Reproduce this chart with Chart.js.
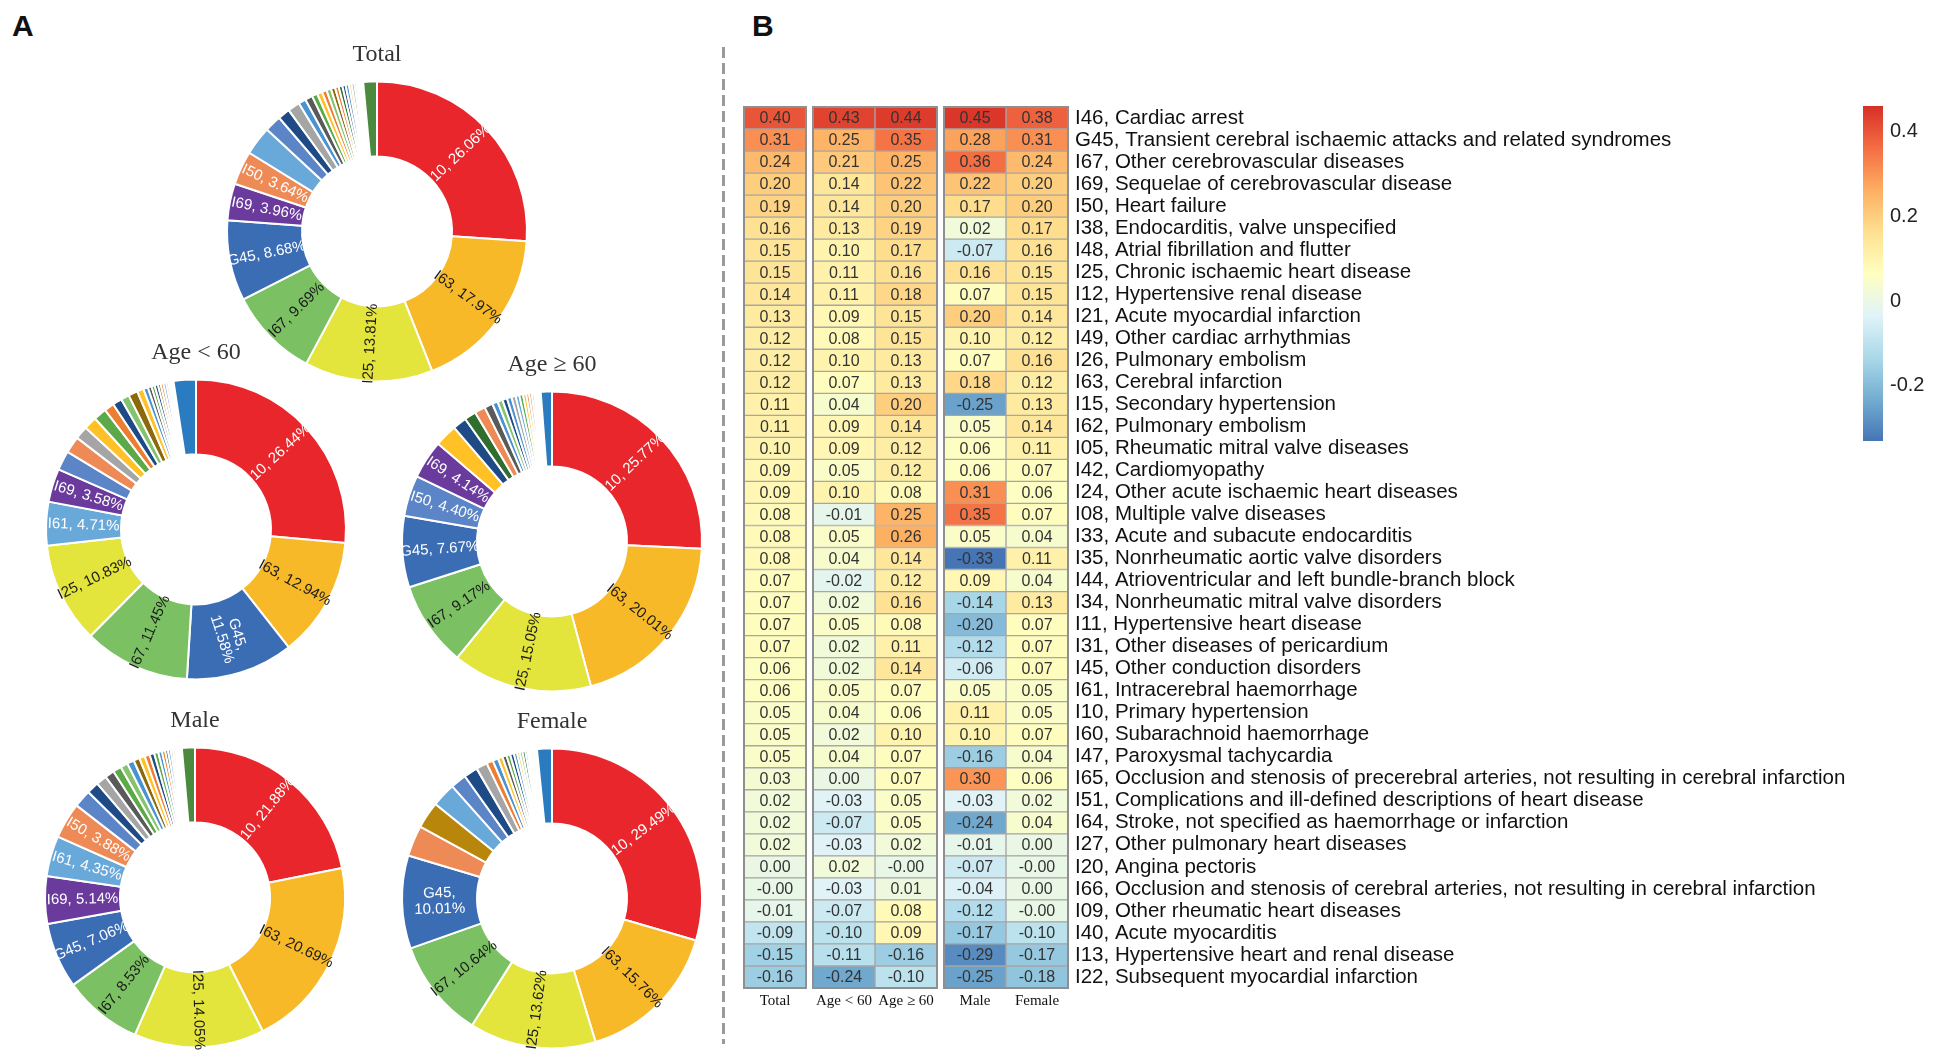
<!DOCTYPE html>
<html><head><meta charset="utf-8">
<script src="https://cdn.jsdelivr.net/npm/chart.js@4.4.1/dist/chart.umd.min.js"></script>
<style>
html,body{margin:0;padding:0;background:#fff;width:1937px;height:1058px;overflow:hidden;position:relative;font-family:"Liberation Sans",Arial,sans-serif}
canvas{position:absolute}
.panel{position:absolute;font:bold 30px/30px "Liberation Sans",Arial,sans-serif;color:#111}
#divider{position:absolute;left:722px;top:47px;width:3px;height:997px;background:repeating-linear-gradient(to bottom,#9a9a9a 0 11px,transparent 11px 16px)}
</style></head><body>
<div class="panel" style="left:12px;top:11px">A</div>
<div class="panel" style="left:752px;top:11px">B</div>
<div id="divider"></div>
<script>
// ---------------- DATA ----------------
const donutTitles = ['Total', 'Age < 60', 'Age \u2265 60', 'Male', 'Female'];

const totalCodes = ['I10','I63','I25','I67','G45','I69','I50'];
const totalShares = [26.06,17.97,13.81,9.69,8.68,3.96,3.64,3.1,1.8,1.3,1.3,0.8,0.8,0.6,0.55,0.5,0.5,0.45,0.4,0.4,0.35,0.35,0.3,0.3,0.25,0.2,0.15,0.15,0.1,0.1,1.47];

const under60Codes = ['I10','I63','G45','I67','I25','I61','I69'];
const under60Shares = [26.44,12.94,11.58,11.45,10.83,4.71,3.58,2.1,1.8,1.4,1.4,1.4,1.05,1.0,0.9,1.0,0.7,0.5,0.4,0.35,0.35,0.3,0.3,0.3,0.25,0.2,0.15,0.1,0.1,2.4];

const over60Codes = ['I10','I63','I25','I67','G45','I50','I69'];
const over60Shares = [25.77,20.01,15.05,9.17,7.67,4.40,4.14,2.4,1.5,1.25,1.15,0.9,0.6,0.55,0.5,0.5,0.45,0.4,0.4,0.35,0.3,0.3,0.25,0.2,0.15,0.15,0.1,0.1,1.2];

const maleCodes = ['I10','I63','I25','I67','G45','I69','I61','I50'];
const maleShares = [21.88,20.69,14.05,8.53,7.06,5.14,4.35,3.88,1.9,1.3,1.15,1.0,0.9,0.8,0.75,0.65,0.6,0.55,0.5,0.45,0.4,0.35,0.3,0.3,0.25,0.25,0.2,0.15,0.15,0.1,0.1,1.4];

const femaleCodes = ['I10','I63','I25','I67','G45'];
const femaleShares = [29.49,15.76,13.62,10.64,10.01,3.3,2.9,2.6,1.7,1.5,1.2,0.7,0.6,0.5,0.45,0.4,0.4,0.35,0.3,0.3,0.3,0.25,0.2,0.2,0.2,0.15,0.15,0.1,1.6];

const heatColumns = ['Total', 'Age < 60', 'Age \u2265 60', 'Male', 'Female'];
const heatRows = [
'I46, Cardiac arrest',
'G45, Transient cerebral ischaemic attacks and related syndromes',
'I67, Other cerebrovascular diseases',
'I69, Sequelae of cerebrovascular disease',
'I50, Heart failure',
'I38, Endocarditis, valve unspecified',
'I48, Atrial fibrillation and flutter',
'I25, Chronic ischaemic heart disease',
'I12, Hypertensive renal disease',
'I21, Acute myocardial infarction',
'I49, Other cardiac arrhythmias',
'I26, Pulmonary embolism',
'I63, Cerebral infarction',
'I15, Secondary hypertension',
'I62, Pulmonary embolism',
'I05, Rheumatic mitral valve diseases',
'I42, Cardiomyopathy',
'I24, Other acute ischaemic heart diseases',
'I08, Multiple valve diseases',
'I33, Acute and subacute endocarditis',
'I35, Nonrheumatic aortic valve disorders',
'I44, Atrioventricular and left bundle-branch block',
'I34, Nonrheumatic mitral valve disorders',
'I11, Hypertensive heart disease',
'I31, Other diseases of pericardium',
'I45, Other conduction disorders',
'I61, Intracerebral haemorrhage',
'I10, Primary hypertension',
'I60, Subarachnoid haemorrhage',
'I47, Paroxysmal tachycardia',
'I65, Occlusion and stenosis of precerebral arteries, not resulting in cerebral infarction',
'I51, Complications and ill-defined descriptions of heart disease',
'I64, Stroke, not specified as haemorrhage or infarction',
'I27, Other pulmonary heart diseases',
'I20, Angina pectoris',
'I66, Occlusion and stenosis of cerebral arteries, not resulting in cerebral infarction',
'I09, Other rheumatic heart diseases',
'I40, Acute myocarditis',
'I13, Hypertensive heart and renal disease',
'I22, Subsequent myocardial infarction'
];
const heatTotal     = [0.40,0.31,0.24,0.20,0.19,0.16,0.15,0.15,0.14,0.13,0.12,0.12,0.12,0.11,0.11,0.10,0.09,0.09,0.08,0.08,0.08,0.07,0.07,0.07,0.07,0.06,0.06,0.05,0.05,0.05,0.03,0.02,0.02,0.02,0.00,-0.004,-0.01,-0.09,-0.15,-0.16];
const heatAgeUnder60= [0.43,0.25,0.21,0.14,0.14,0.13,0.10,0.11,0.11,0.09,0.08,0.10,0.07,0.04,0.09,0.09,0.05,0.10,-0.01,0.05,0.04,-0.02,0.02,0.05,0.02,0.02,0.05,0.04,0.02,0.04,0.00,-0.03,-0.07,-0.03,0.02,-0.03,-0.07,-0.10,-0.11,-0.24];
const heatAgeOver60 = [0.44,0.35,0.25,0.22,0.20,0.19,0.17,0.16,0.18,0.15,0.15,0.13,0.13,0.20,0.14,0.12,0.12,0.08,0.25,0.26,0.14,0.12,0.16,0.08,0.11,0.14,0.07,0.06,0.10,0.07,0.07,0.05,0.05,0.02,-0.004,0.01,0.08,0.09,-0.16,-0.10];
const heatMale      = [0.45,0.28,0.36,0.22,0.17,0.02,-0.07,0.16,0.07,0.20,0.10,0.07,0.18,-0.25,0.05,0.06,0.06,0.31,0.35,0.05,-0.33,0.09,-0.14,-0.20,-0.12,-0.06,0.05,0.11,0.10,-0.16,0.30,-0.03,-0.24,-0.01,-0.07,-0.04,-0.12,-0.17,-0.29,-0.25];
const heatFemale    = [0.38,0.31,0.24,0.20,0.20,0.17,0.16,0.15,0.15,0.14,0.12,0.16,0.12,0.13,0.14,0.11,0.07,0.06,0.07,0.04,0.11,0.04,0.13,0.07,0.07,0.07,0.05,0.05,0.07,0.04,0.06,0.02,0.04,0.00,-0.004,0.00,-0.004,-0.10,-0.17,-0.18];
const colorRange = [-0.33, 0.46];
const colorbarTicks = [0.4, 0.2, 0, -0.2];

// ---------------- STYLES ----------------
const PALETTE = {
  red:'#E8262B', amber:'#F7B928', yellow:'#E3E43C', green:'#7BC163', blue:'#3B6DB4',
  purple:'#6A3B9C', orange:'#EE8A55', sky:'#68A9DA', steel:'#5B85C6', navy:'#1E4B86',
  gray:'#A5A5A5', azure:'#4B92D2', dgray:'#5A5A5A', grass:'#5CAA47', gold:'#FFC125',
  tang:'#ED7D31', lgreen:'#85C46D', brown:'#8C6A0C', dgreen:'#2F6E2F', ochre:'#B8860B',
  tan:'#E0A070', pale:'#F2D58A', lblue:'#9DC3E6', forest:'#4B8A3E', cobalt:'#2A7BC0'
};
const totalColors = ['red','amber','yellow','green','blue','purple','orange','sky','steel','navy','gray','azure','dgray','grass','gold','tang','lgreen','brown','tang','dgreen','navy','azure','pale','gray','lblue','tan','gold','lgreen','azure','gray','forest'];
const under60Colors = ['red','amber','blue','green','yellow','sky','purple','steel','orange','gray','gold','grass','tang','navy','lgreen','brown','gold','azure','dgray','grass','navy','brown','tang','sky','tan','gray','pale','lblue','tan','cobalt'];
const over60Colors = ['red','amber','yellow','green','blue','steel','purple','gold','navy','dgreen','orange','dgray','azure','lgreen','navy','azure','gray','sky','grass','gold','tang','tan','lblue','pale','gray','tan','lblue','pale','cobalt'];
const maleColors = ['red','amber','yellow','green','blue','purple','sky','orange','steel','navy','gray','dgray','grass','lgreen','azure','brown','gold','tang','navy','grass','azure','tang','dgreen','sky','gray','pale','lblue','tan','gold','gray','lblue','forest'];
const femaleColors = ['red','amber','yellow','green','blue','orange','ochre','sky','steel','navy','gray','tang','azure','gold','dgray','grass','navy','azure','gold','lgreen','dgreen','gray','pale','lblue','tan','gold','lblue','gray','cobalt'];
const darkTextColors = ['amber','yellow','green'];
const HEAT_STOPS = ['#4575b4','#74add1','#abd9e9','#e0f3f8','#ffffbf','#fee090','#fdae61','#f46d43','#d73027'];

const SANS = '"Liberation Sans", Arial, Helvetica, sans-serif';
const SERIF = '"Liberation Serif", "Times New Roman", serif';
Chart.defaults.font.family = SANS;
Chart.defaults.color = '#222';

function hexToRgb(h){ const n=parseInt(h.slice(1),16); return [(n>>16)&255,(n>>8)&255,n&255]; }
const STOP_RGB = HEAT_STOPS.map(hexToRgb);
function heatColor(v){
  let f = (v - colorRange[0]) / (colorRange[1] - colorRange[0]);
  f = Math.max(0, Math.min(1, f));
  const pos = f * (STOP_RGB.length - 1);
  const i = Math.min(Math.floor(pos), STOP_RGB.length - 2);
  const t = pos - i;
  const a = STOP_RGB[i], b = STOP_RGB[i+1];
  return 'rgb(' + [0,1,2].map(k => Math.round(a[k] + (b[k]-a[k])*t)).join(',') + ')';
}

function makeCanvas(left, top, w, h){
  const c = document.createElement('canvas');
  c.width = w; c.height = h;
  c.style.left = left + 'px'; c.style.top = top + 'px';
  c.style.width = w + 'px'; c.style.height = h + 'px';
  document.body.appendChild(c);
  return c;
}

// ---------------- DONUTS ----------------
const sliceLabelPlugin = {
  id: 'sliceLabels',
  afterDatasetsDraw(chart, args, opts){
    const meta = chart.getDatasetMeta(0);
    const ds = chart.data.datasets[0];
    const ctx = chart.ctx;
    ctx.save();
    ctx.font = '15px ' + SANS;
    ctx.textAlign = 'center'; ctx.textBaseline = 'middle';
    (opts.codes || []).forEach((code, i) => {
      const arc = meta.data[i]; if (!arc) return;
      const p = arc.getProps(['x','y','startAngle','endAngle','innerRadius','outerRadius'], true);
      const mid = (p.startAngle + p.endAngle) / 2;
      const r = (p.innerRadius + p.outerRadius) / 2;
      const x = p.x + Math.cos(mid) * r, y = p.y + Math.sin(mid) * r;
      const rot = mid > Math.PI / 2 ? mid - Math.PI : mid;
      ctx.save();
      ctx.translate(x, y); ctx.rotate(rot);
      ctx.fillStyle = darkTextColors.includes(ds.colorNames[i]) ? '#1a1a1a' : '#ffffff';
      const val = ds.data[i].toFixed(2);
      const lines = (opts.wrap || []).includes(code) ? [code + ',', val + '%'] : [code + ', ' + val + '%'];
      lines.forEach((t, k) => ctx.fillText(t, 0, (k - (lines.length - 1) / 2) * 16));
      ctx.restore();
    });
    ctx.restore();
  }
};

const donutSpecs = [
  {shares: totalShares,   codes: totalCodes,   colors: totalColors,   wrap: []},
  {shares: under60Shares, codes: under60Codes, colors: under60Colors, wrap: ['G45']},
  {shares: over60Shares,  codes: over60Codes,  colors: over60Colors,  wrap: []},
  {shares: maleShares,    codes: maleCodes,    colors: maleColors,    wrap: []},
  {shares: femaleShares,  codes: femaleCodes,  colors: femaleColors,  wrap: ['G45']}
];
const donutCenters = [[377,231],[196,529],[552,541],[195,897],[552,898]];
const DW = 320, DH = 348, DCY = (4 + 28.8 + 10 + DH) / 2;

donutSpecs.forEach((spec, k) => {
  const [cx, cy] = donutCenters[k];
  const cv = makeCanvas(cx - DW/2, cy - DCY, DW, DH);
  new Chart(cv, {
    type: 'doughnut',
    data: {
      labels: spec.shares.map((_, i) => spec.codes[i] || ''),
      datasets: [{
        data: spec.shares,
        backgroundColor: spec.colors.map(n => PALETTE[n]),
        colorNames: spec.colors,
        borderColor: '#ffffff',
        borderWidth: 2
      }]
    },
    options: {
      animation: false, responsive: false,
      radius: 150, cutout: '50%',
      layout: {padding: 0},
      plugins: {
        legend: {display: false},
        tooltip: {enabled: false},
        title: {display: true, text: donutTitles[k], color: '#333',
                font: {family: SERIF, size: 24, weight: 'normal'},
                padding: {top: 4, bottom: 10}},
        sliceLabels: {codes: spec.codes, wrap: spec.wrap}
      }
    },
    plugins: [sliceLabelPlugin]
  });
});

// ---------------- HEATMAP ----------------
const colGroup = [0, 1, 1, 2, 2];
const GROUP_GAP = 7 / 62;
const colStart = colGroup.map((g, i) => i + g * GROUP_GAP);
const xMax = heatColumns.length + (Math.max(...colGroup)) * GROUP_GAP;
const heatSeries = [heatTotal, heatAgeUnder60, heatAgeOver60, heatMale, heatFemale];

const heatDecor = {
  id: 'heatDecor',
  afterDatasetsDraw(chart){
    const ctx = chart.ctx, xs = chart.scales.x, area = chart.chartArea;
    ctx.save();
    ctx.strokeStyle = '#8f8f8f'; ctx.lineWidth = 2;
    [...new Set(colGroup)].forEach(g => {
      const idx = colGroup.map((gg, i) => gg === g ? i : -1).filter(i => i >= 0);
      const x0 = xs.getPixelForValue(colStart[idx[0]]);
      const x1 = xs.getPixelForValue(colStart[idx[idx.length-1]] + 1);
      ctx.strokeRect(x0, area.top, x1 - x0, area.bottom - area.top);
    });
    ctx.font = '16px ' + SANS; ctx.fillStyle = '#333';
    ctx.textAlign = 'center'; ctx.textBaseline = 'middle';
    chart.data.datasets.forEach((ds, di) => {
      chart.getDatasetMeta(di).data.forEach((el, i) => {
        const p = el.getProps(['x','y','base'], true);
        ctx.fillText(ds.values[i].toFixed(2), (p.x + p.base) / 2, p.y + 1);
      });
    });
    ctx.restore();
  }
};

const HX = 730, HY = 90, HW = 1120, HH = 950;
const heatCanvas = makeCanvas(HX, HY, HW, HH);
new Chart(heatCanvas, {
  type: 'bar',
  data: {
    labels: heatRows,
    datasets: heatSeries.map((vals, c) => ({
      label: heatColumns[c],
      data: vals.map(() => [colStart[c], colStart[c] + 1]),
      values: vals,
      backgroundColor: vals.map(heatColor),
      borderColor: '#a6a6a6', borderWidth: 1, borderSkipped: false,
      barPercentage: 1, categoryPercentage: 1, grouped: false
    }))
  },
  options: {
    indexAxis: 'y', animation: false, responsive: false,
    layout: {padding: {left: 14, top: 17, right: 0, bottom: 22}},
    plugins: {legend: {display: false}, tooltip: {enabled: false}},
    scales: {
      x: {
        type: 'linear', min: 0, max: xMax, position: 'bottom',
        grid: {display: false, drawTicks: false}, border: {display: false},
        afterBuildTicks: ax => { ax.ticks = colStart.map(s => ({value: s + 0.5})); },
        afterFit: ax => { ax.height = 30; ax.paddingLeft = 0; ax.paddingRight = 0; },
        ticks: {autoSkip: false, maxRotation: 0, minRotation: 0, padding: 4, color: '#111',
                font: {family: SERIF, size: 15}, callback: (v, i) => heatColumns[i]}
      },
      y: {
        type: 'category', position: 'right', offset: true,
        grid: {display: false, drawTicks: false}, border: {display: false},
        afterFit: ax => { ax.width = 782; ax.paddingTop = 0; ax.paddingBottom = 0; },
        ticks: {autoSkip: false, padding: 7, color: '#111', font: {size: 20.5}}
      }
    }
  },
  plugins: [heatDecor]
});

// ---------------- COLORBAR ----------------
const cbCanvas = makeCanvas(1850, 90, 87, 370);
new Chart(cbCanvas, {
  type: 'bar',
  data: {
    labels: [''],
    datasets: [{
      data: [colorRange],
      backgroundColor: (c) => {
        const chart = c.chart, ys = chart.scales.y;
        if (!chart.chartArea || !ys) return HEAT_STOPS[0];
        const g = chart.ctx.createLinearGradient(0, ys.getPixelForValue(colorRange[0]), 0, ys.getPixelForValue(colorRange[1]));
        HEAT_STOPS.forEach((col, i) => g.addColorStop(i / (HEAT_STOPS.length - 1), col));
        return g;
      },
      borderWidth: 0, barPercentage: 1, categoryPercentage: 1
    }]
  },
  options: {
    animation: false, responsive: false,
    layout: {padding: {left: 13, top: 16, right: 0, bottom: 19}},
    plugins: {legend: {display: false}, tooltip: {enabled: false}},
    scales: {
      x: {display: false},
      y: {
        position: 'right', min: colorRange[0], max: colorRange[1],
        grid: {display: false, drawTicks: false}, border: {display: false},
        afterBuildTicks: ax => { ax.ticks = colorbarTicks.map(v => ({value: v})); },
        afterFit: ax => { ax.width = 54; ax.paddingTop = 0; ax.paddingBottom = 0; },
        ticks: {padding: 7, color: '#222', font: {size: 20}, callback: v => String(v)}
      }
    }
  }
});
</script>
</body></html>
